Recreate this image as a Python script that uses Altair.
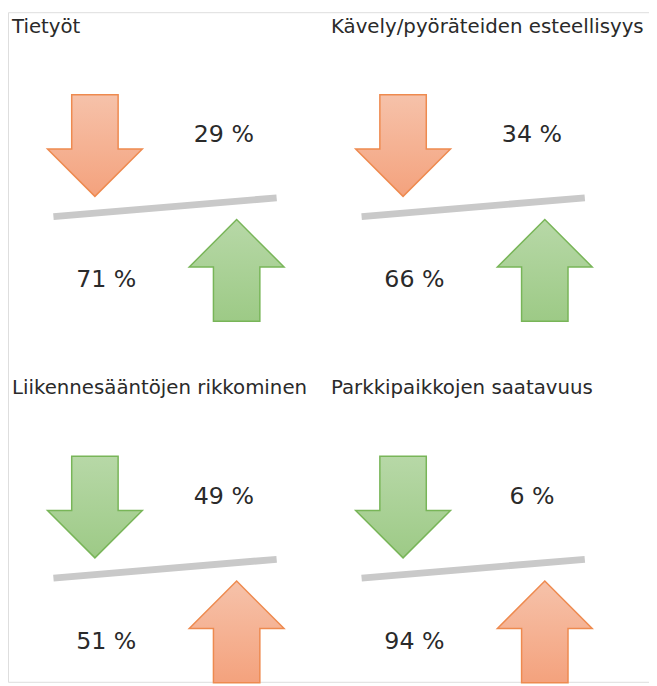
import altair as alt
import pandas as pd

# ---- data ----
titles = ["Tietyöt", "Kävely/pyöräteiden esteellisyys",
          "Liikennesääntöjen rikkominen", "Parkkipaikkojen saatavuus"]
decrease_pct = [29, 34, 49, 6]     # next to the downward arrow
increase_pct = [71, 66, 51, 94]    # next to the upward arrow
decrease_is_good = [False, False, True, True]

# ---- layout (pixel positions in the 657x686 picture) ----
panel_col = [0, 1, 0, 1]
panel_row = [0, 0, 1, 1]
DX, DY, TITLE_DX = 312, 366, 323
M = 8                       # page margin
X_END, Y_END = 657, 686     # picture extent

rows = []
for i, t in enumerate(titles):
    ox, oy = panel_col[i] * DX, panel_row[i] * DY
    rows.append(dict(
        title=t, tx=12 + panel_col[i] * TITLE_DX, ty=29 + oy,
        lx=54 + ox, ly=215 + oy, lx2=280 + ox, ly2=196 + oy,
        top_txt=f"{decrease_pct[i]} %", top_x=226.5 + ox, top_y=139.5 + oy,
        bot_txt=f"{increase_pct[i]} %", bot_x=107.5 + ox, bot_y=286.5 + oy,
    ))
panels = pd.DataFrame(rows)

arrows = []
for i in range(len(titles)):
    ox, oy = panel_col[i] * DX, panel_row[i] * DY
    arrows.append(dict(dir="down", good=decrease_is_good[i], ax=96 + ox, ay=143 + oy))
    arrows.append(dict(dir="up", good=not decrease_is_good[i], ax=239.5 + ox, ay=269.5 + oy))
arrows = pd.DataFrame(arrows)

DOWN = "M-23.5,-51.5L23.5,-51.5L23.5,3.5L48,3.5L0,51.5L-48,3.5L-23.5,3.5Z"
UP = "M-23.5,51.5L23.5,51.5L23.5,-3.5L48,-3.5L0,-51.5L-48,-3.5L-23.5,-3.5Z"

xs = alt.Scale(domain=[M, X_END], nice=False, zero=False)
ys = alt.Scale(domain=[M, Y_END], nice=False, zero=False, reverse=True)
FONT = "DejaVu Sans"
TXT = "#2a2a2a"

def grad(c1, c2):
    return alt.LinearGradient(
        gradient="linear", x1=0, x2=0, y1=0, y2=1,
        stops=[alt.GradientStop(color=c1, offset=0), alt.GradientStop(color=c2, offset=1)])

base = alt.Chart(panels)

title_layer = base.mark_text(align="left", baseline="alphabetic", font=FONT,
                             fontSize=20, color=TXT).encode(
    x=alt.X("tx:Q", scale=xs, axis=None), y=alt.Y("ty:Q", scale=ys, axis=None), text="title:N")

line_layer = base.mark_rule(strokeWidth=7, color="#c9c9c9", strokeCap="butt").encode(
    x=alt.X("lx:Q", scale=xs, axis=None), y=alt.Y("ly:Q", scale=ys, axis=None),
    x2="lx2:Q", y2="ly2:Q")

top_layer = base.mark_text(align="center", baseline="alphabetic", font=FONT,
                           fontSize=24, color=TXT).encode(
    x=alt.X("top_x:Q", scale=xs, axis=None), y=alt.Y("top_y:Q", scale=ys, axis=None), text="top_txt:N")

bot_layer = base.mark_text(align="center", baseline="alphabetic", font=FONT,
                           fontSize=24, color=TXT).encode(
    x=alt.X("bot_x:Q", scale=xs, axis=None), y=alt.Y("bot_y:Q", scale=ys, axis=None), text="bot_txt:N")

shape_enc = alt.Shape("dir:N", scale=alt.Scale(domain=["down", "up"], range=[DOWN, UP]), legend=None)

def arrow_layer(good, c1, c2, border):
    return alt.Chart(arrows).transform_filter(
        alt.datum.good == good
    ).mark_point(filled=True, size=4, opacity=1, fill=grad(c1, c2),
                 stroke=border, strokeWidth=1.5).encode(
        x=alt.X("ax:Q", scale=xs, axis=None), y=alt.Y("ay:Q", scale=ys, axis=None),
        shape=shape_enc)

orange = arrow_layer(False, "#f6c2aa", "#f4a27d", "#ee8a4f")
green = arrow_layer(True, "#b7d8a7", "#9dca86", "#78b558")

chart = alt.layer(line_layer, orange, green, title_layer, top_layer, bot_layer).properties(
    width=X_END - M, height=Y_END - M, padding=0,
    autosize=alt.AutoSizeParams(type="none"),
).configure_view(strokeWidth=0, stroke="transparent").configure(background="white")

chart.save("out.html", embed_options={"renderer": "svg", "actions": False})
